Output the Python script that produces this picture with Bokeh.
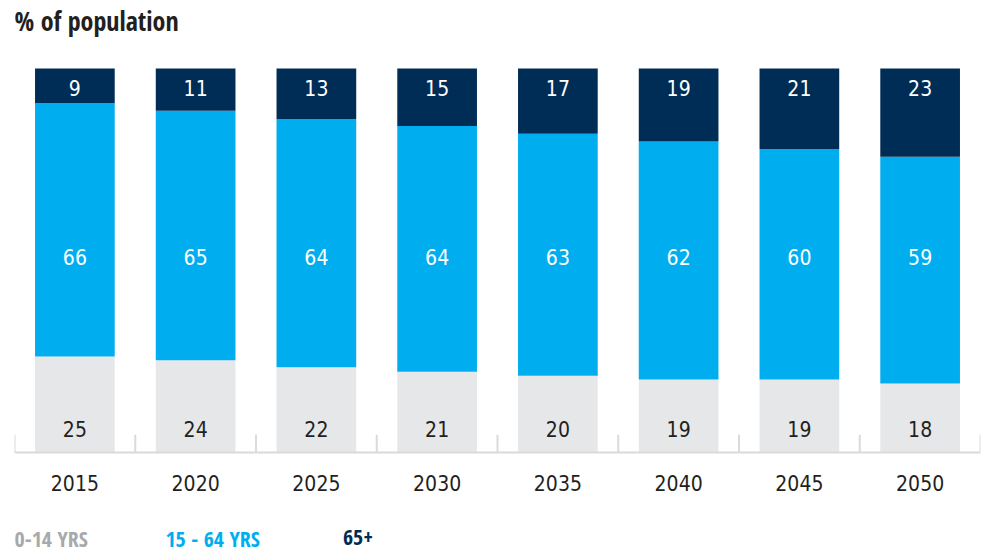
from bokeh.plotting import figure
from bokeh.models import ColumnDataSource, Range1d, FactorRange, Label
from bokeh.core.properties import value
from bokeh.embed import file_html
from bokeh.resources import INLINE

years = ["2015", "2020", "2025", "2030", "2035", "2040", "2045", "2050"]
young = [25, 24, 22, 21, 20, 19, 19, 18]
working = [66, 65, 64, 64, 63, 62, 60, 59]
old = [9, 11, 13, 15, 17, 19, 21, 23]
series = ["young", "working", "old"]
legend_labels = ["0-14 YRS", "15 - 64 YRS", "65+"]

FONT = "'DejaVu Sans Condensed', sans-serif"
FONT_B = "'Open Sans Condensed', 'DejaVu Sans Condensed', sans-serif"
C_GREY = "#e6e7e8"
C_BLUE = "#00aeef"
C_NAVY = "#002d56"
C_LEG_GREY = "#a7a9ac"
C_TEXT = "#231f20"
C_AXIS = "#d9dadb"

n = len(years)
# bars are shown as shares of 100% (rounded values may not sum exactly to 100)
totals = [a + b + c for a, b, c in zip(young, working, old)]
src = ColumnDataSource(dict(
    years=years,
    young=[v * 100.0 / t for v, t in zip(young, totals)],
    working=[v * 100.0 / t for v, t in zip(working, totals)],
    old=[v * 100.0 / t for v, t in zip(old, totals)],
    young_lbl=[str(v) for v in young],
    working_lbl=[str(v) for v in working],
    old_lbl=[str(v) for v in old],
    y_young=[6.2] * n, y_working=[50.8] * n, y_old=[95.0] * n, y_year=[-7.9] * n,
))

p = figure(x_range=FactorRange(*years, range_padding=0), y_range=Range1d(-26.3, 117.7),
           width=985, height=553, output_backend="svg", toolbar_location=None,
           min_border_left=14, min_border_right=5, min_border_top=0, min_border_bottom=0)
p.outline_line_color = None
p.grid.visible = False
p.axis.visible = False

p.vbar_stack(series, x="years", width=0.66, source=src,
             color=[C_GREY, C_BLUE, C_NAVY], line_color=None)

# baseline and boundary ticks between categories
bx = list(range(n + 1))
p.segment(x0=[0], x1=[n], y0=[0], y1=[0], line_color=C_AXIS, line_width=2)
p.segment(x0=bx, x1=bx, y0=[0] * len(bx), y1=[4.6] * len(bx),
          line_color=C_AXIS, line_width=2)

for col, ycol, color in [("young_lbl", "y_young", C_TEXT),
                         ("working_lbl", "y_working", "white"),
                         ("old_lbl", "y_old", "white"),
                         ("years", "y_year", C_TEXT)]:
    p.text(x="years", y=ycol, text=col, source=src, text_align="center",
           text_baseline="middle", text_color=color,
           text_font=value(FONT), text_font_size="21px")

p.add_layout(Label(x=0, y=112.3, text="% of population", text_font=FONT_B,
                   text_font_size="26px", text_font_style="bold",
                   text_color=C_TEXT, text_baseline="middle"))

for xoff, txt, col in zip([0, 1.25, 2.72], legend_labels, [C_LEG_GREY, C_BLUE, C_NAVY]):
    p.add_layout(Label(x=xoff, y=-22.2, text=txt, text_font=FONT_B,
                       text_font_size="22px", text_font_style="bold",
                       text_color=col, text_baseline="middle"))

open("out.html", "w").write(file_html(p, INLINE))
